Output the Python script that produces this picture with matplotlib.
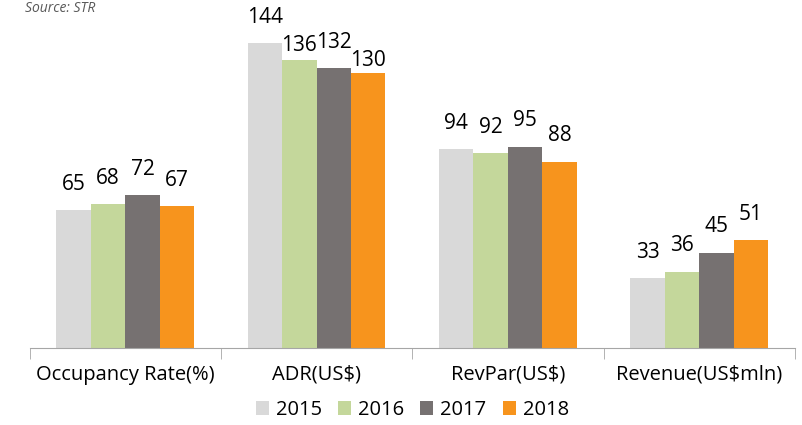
import numpy as np
import matplotlib.pyplot as plt

plt.rcParams['font.family'] = ['Open Sans', 'DejaVu Sans']

categories = ['Occupancy Rate(%)', 'ADR(US$)', 'RevPar(US$)', 'Revenue(US$mln)']
years = ['2015', '2016', '2017', '2018']
v2015 = [65, 144, 94, 33]
v2016 = [68, 136, 92, 36]
v2017 = [72, 132, 95, 45]
v2018 = [67, 130, 88, 51]
colors = ['#D9D9D9', '#C4D79B', '#767171', '#F7941D']

fig = plt.figure(figsize=(8.02, 4.25), dpi=100)
ax = fig.add_axes([0.037, 0.181, 0.954, 0.798])

x = np.arange(len(categories))
w = 0.18
series = [v2015, v2016, v2017, v2018]
for i, (vals, yr, c) in enumerate(zip(series, years, colors)):
    pos = x + (i - 1.5) * w
    ax.bar(pos, vals, w, color=c, label=yr)
    for j, (p, v) in enumerate(zip(pos, vals)):
        # labels sit ~20px above bars; two ADR labels were pulled down in the original
        off = 11
        if j == 1 and i == 1:
            off = 3
        if j == 1 and i == 3:
            off = 1
        ax.annotate(str(v), (p, v), xytext=(0, off), textcoords='offset points',
                    ha='center', va='bottom', fontsize=15)

ax.set_xlim(-0.5, 3.5)
ax.set_ylim(0, 160)
for s in ['top', 'right', 'left']:
    ax.spines[s].set_visible(False)
ax.spines['bottom'].set_color('#A6A6A6')
ax.set_yticks([])
ax.set_xticks(x)
ax.set_xticklabels(categories, fontsize=14.5)
ax.tick_params(axis='x', which='major', length=0, pad=12)
ax.set_xticks(np.arange(-0.5, 4.0, 1.0), minor=True)
ax.tick_params(axis='x', which='minor', length=8, color='#A6A6A6')

fig.text(0.031, 1 - 8 / 425, 'Source: STR', fontsize=10, style='italic', color='#595959', va='center')

ax.legend(loc='center', bbox_to_anchor=(0.5, -0.183), ncol=4, frameon=False,
          fontsize=14.5, handlelength=0.65, handleheight=0.65, handletextpad=0.35,
          columnspacing=0.8, borderpad=0)

plt.savefig('out.png', dpi=100)
